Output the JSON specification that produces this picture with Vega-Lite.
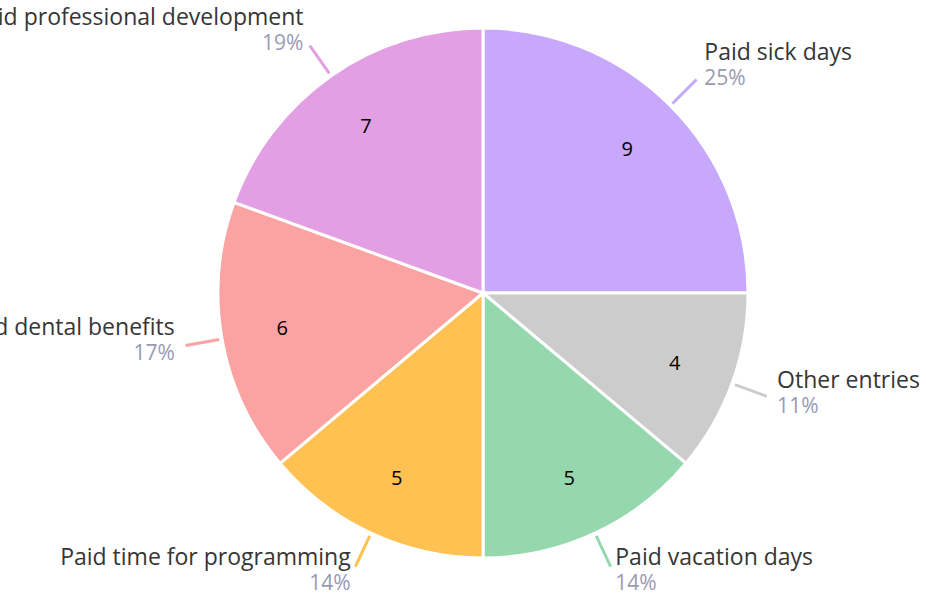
{
  "$schema": "https://vega.github.io/schema/vega-lite/v6.json",
  "width": 886,
  "height": 586,
  "autosize": {"type": "none"},
  "padding": {"left": 40, "top": 0, "right": 0, "bottom": 10},
  "background": "white",
  "config": {"view": {"stroke": null}, "text": {"font": "Open Sans"}},
  "data": {
    "values": [
      {"category": "Paid sick days", "value": 9},
      {"category": "Other entries", "value": 4},
      {"category": "Paid vacation days", "value": 5},
      {"category": "Paid time for programming", "value": 5},
      {"category": "Health and dental benefits", "value": 6},
      {"category": "Paid professional development", "value": 7}
    ]
  },
  "transform": [
    {"joinaggregate": [{"op": "sum", "field": "value", "as": "total"}]},
    {"stack": "value", "groupby": [], "as": ["s0", "s1"]},
    {"calculate": "datum.s0 / datum.total", "as": "start"},
    {"calculate": "datum.s1 / datum.total", "as": "end"},
    {"calculate": "(datum.start + datum.end) / 2", "as": "mid"},
    {"calculate": "format(datum.value / datum.total, '.0%')", "as": "pct"}
  ],
  "layer": [
    {
      "mark": {"type": "arc", "outerRadius": 265, "stroke": "white", "strokeWidth": 3},
      "encoding": {
        "theta": {"field": "start", "type": "quantitative", "scale": {"domain": [0, 1]}},
        "theta2": {"field": "end"},
        "color": {
          "field": "category", "type": "nominal", "legend": null,
          "scale": {
            "domain": ["Paid sick days", "Other entries", "Paid vacation days", "Paid time for programming", "Health and dental benefits", "Paid professional development"],
            "range": ["#c7a8fc", "#cccccc", "#95d8ad", "#fec152", "#fba2a2", "#e29fe3"]
          }
        }
      }
    },
    {
      "mark": {"type": "arc", "innerRadius": 268, "outerRadius": 302, "strokeWidth": 3, "fill": null, "fillOpacity": 0},
      "encoding": {
        "theta": {"field": "mid", "type": "quantitative"},
        "theta2": {"field": "mid"},
        "stroke": {
          "field": "category", "type": "nominal", "legend": null,
          "scale": {
            "domain": ["Paid sick days", "Other entries", "Paid vacation days", "Paid time for programming", "Health and dental benefits", "Paid professional development"],
            "range": ["#c7a8fc", "#cccccc", "#95d8ad", "#fec152", "#fba2a2", "#e29fe3"]
          }
        }
      }
    },
    {
      "mark": {"type": "text", "radius": 204, "dy": 1, "fontSize": 20, "fill": "#000000", "align": "center", "baseline": "middle"},
      "encoding": {
        "theta": {"field": "mid", "type": "quantitative"},
        "text": {"field": "value", "type": "quantitative"}
      }
    },
    {
      "transform": [{"filter": "datum.mid < 0.5"}],
      "mark": {"type": "text", "radius": 313, "dy": -12, "fontSize": 23, "fill": "#363636", "align": "left", "baseline": "alphabetic"},
      "encoding": {
        "theta": {"field": "mid", "type": "quantitative"},
        "text": {"field": "category", "type": "nominal"}
      }
    },
    {
      "transform": [{"filter": "datum.mid >= 0.5"}],
      "mark": {"type": "text", "radius": 313, "dy": -12, "fontSize": 23, "fill": "#363636", "align": "right", "baseline": "alphabetic"},
      "encoding": {
        "theta": {"field": "mid", "type": "quantitative"},
        "text": {"field": "category", "type": "nominal"}
      }
    },
    {
      "transform": [{"filter": "datum.mid < 0.5"}],
      "mark": {"type": "text", "radius": 313, "dy": 13, "fontSize": 21, "fill": "#9a9ab3", "align": "left", "baseline": "alphabetic"},
      "encoding": {
        "theta": {"field": "mid", "type": "quantitative"},
        "text": {"field": "pct", "type": "nominal"}
      }
    },
    {
      "transform": [{"filter": "datum.mid >= 0.5"}],
      "mark": {"type": "text", "radius": 313, "dy": 13, "fontSize": 21, "fill": "#9a9ab3", "align": "right", "baseline": "alphabetic"},
      "encoding": {
        "theta": {"field": "mid", "type": "quantitative"},
        "text": {"field": "pct", "type": "nominal"}
      }
    }
  ]
}
